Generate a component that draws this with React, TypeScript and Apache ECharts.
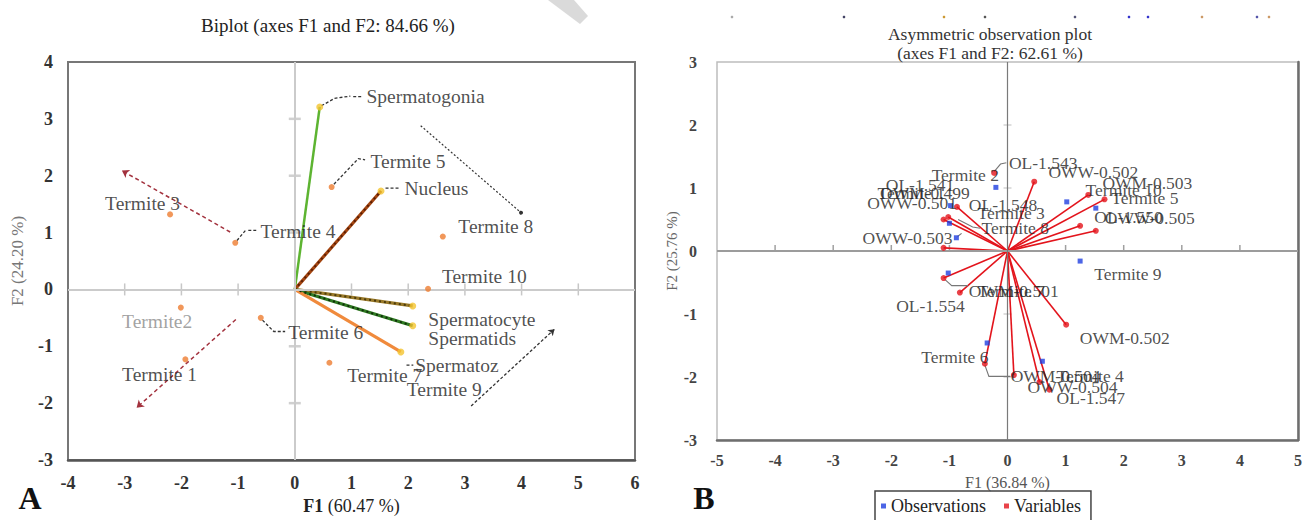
import React, { useEffect, useRef } from "react";
import * as echarts from "echarts";

const FONT = "'Liberation Serif', 'DejaVu Serif', serif";

// ---------- Panel A: Biplot ----------
const aObsNames = ["Termite 1", "Termite2", "Termite 3", "Termite 4", "Termite 5", "Termite 6", "Termite 7", "Termite 8", "Termite 10"];
const aObsX = [-1.93, -2.01, -2.2, -1.05, 0.65, -0.6, 0.61, 2.61, 2.35];
const aObsY = [-1.23, -0.32, 1.32, 0.82, 1.8, -0.5, -1.29, 0.93, 0.01];

const aVarNames = ["Spermatogonia", "Nucleus", "Spermatocyte", "Spermatids", "Spermatoz"];
const aVarX = [0.44, 1.52, 2.08, 2.08, 1.87];
const aVarY = [3.21, 1.73, -0.29, -0.64, -1.1];
const aVarColors = ["#5DB431", "#A3440F", "#9A7A2A", "#2F7A22", "#F08A3C"];
const aVarDash = ["", "#5A1F05", "#4A3A0A", "#10300A", ""];

const aLblText = ["Spermatogonia", "Termite 5", "Nucleus", "Termite 3", "Termite 4", "Termite 8", "Termite 10", "Termite2", "Termite 1", "Termite 6", "Termite 7", "Spermatocyte", "Spermatids", "Spermatoz", "Termite 9"];
const aLblX = [1.26, 1.33, 1.93, -3.35, -0.61, 2.88, 2.59, -3.05, -3.05, -0.12, 0.92, 2.35, 2.35, 2.12, 1.97];
const aLblY = [3.39, 2.25, 1.78, 1.51, 1.02, 1.11, 0.23, -0.56, -1.49, -0.76, -1.51, -0.53, -0.87, -1.34, -1.76];

const aLeaders = [
  [[0.47, 3.23], [0.7, 3.36], [0.98, 3.4]],
  [[1.03, 3.39], [1.19, 3.39]],
  [[0.69, 1.85], [1.12, 2.3], [1.24, 2.28]],
  [[1.6, 1.78], [1.86, 1.78]],
  [[-1.02, 0.86], [-0.86, 1.05]],
  [[-0.82, 1.04], [-0.68, 1.04]],
  [[-0.57, -0.54], [-0.37, -0.74], [-0.17, -0.74]],
  [[1.97, -1.33], [2.09, -1.33]],
];
const aRedArrows = [
  [[-1.14, 1.01], [-3.05, 2.09]],
  [[-1.04, -0.53], [-2.79, -2.08]],
];
const aBlackArrow = [[3.11, -2.05], [4.58, -0.7]];
const aBlackDotLine = [[2.22, 2.88], [3.99, 1.35]];
const aTickX = [-3, -2, -1, 1, 2, 3, 4, 5];
const aTickY = [-2, -1, 1, 2, 3];

// ---------- Panel B: Asymmetric observation plot ----------
const bObsX = [-0.2, 1.02, 1.52, -0.98, -1.0, -0.88, 1.25, -1.02, -0.35, 0.6];
const bObsY = [1.01, 0.78, 0.68, 0.72, 0.44, 0.21, -0.16, -0.35, -1.46, -1.75];
const bVarX = [-0.23, 0.46, 1.39, 1.67, 1.25, 1.52, -1.1, -1.02, -0.87, -1.1, -1.1, -0.82, 1.01, -0.39, 0.11, 0.55, 0.72];
const bVarY = [1.24, 1.1, 0.89, 0.82, 0.4, 0.32, 0.5, 0.54, 0.7, 0.05, -0.43, -0.66, -1.17, -1.79, -1.97, -2.08, -2.2];
const bVarVec = [false, true, true, true, true, true, true, true, true, true, true, true, true, true, true, true, true];

const bLblText = ["OL-1.543", "OWW-0.502", "Termite 2", "OL-1.541", "Termite 1", "OWM-0.499", "OWW-0.501", "OL-1.548", "Termite 3", "Termite 8", "OWW-0.503", "Termite 10", "OWM-0.503", "Termite 5", "OL-1.550", "OWW-0.505", "Termite 9", "OWM-0.501", "Termite 7", "OL-1.554", "OWM-0.502", "Termite 6", "OWM-0.504", "Termite 4", "OWW-0.504", "OL-1.547"];
const bLblX = [0.02, 0.7, -1.31, -2.1, -2.24, -2.2, -2.42, -0.67, -0.52, -0.45, -2.5, 1.34, 1.63, 1.78, 1.49, 1.67, 1.49, -0.67, -0.52, -1.92, 1.24, -1.49, 0.05, 0.84, 0.34, 0.84];
const bLblY = [1.4, 1.26, 1.21, 1.05, 0.92, 0.92, 0.76, 0.73, 0.6, 0.36, 0.2, 0.97, 1.08, 0.84, 0.54, 0.52, -0.36, -0.63, -0.63, -0.87, -1.38, -1.68, -1.99, -1.99, -2.16, -2.34];

const bLeaders = [
  [[-0.23, 1.26], [-0.12, 1.38], [-0.02, 1.4]],
  [[-0.85, 0.5], [-0.6, 0.38], [-0.47, 0.36]],
  [[-0.86, 0.23], [-0.79, 0.28]],
  [[-1.08, -0.45], [-0.96, -0.55], [-0.68, -0.55]],
  [[-0.39, -1.81], [-0.32, -1.99], [0.05, -1.99]],
];
const bTickX = [-4, -3, -2, -1, 1, 2, 3, 4];
const bTickY = [-2, -1, 1, 2];

const topDotsX = [732, 844, 944, 985, 1075, 1129, 1148, 1202, 1257, 1269];
const topDotsColor = ["#aaa", "#446", "#c93", "#555", "#557", "#33c", "#33c", "#c96", "#55a", "#c96"];

function buildOption() {
  const lbl = (size: number, color = "#222") => ({
    show: true,
    position: "right",
    distance: 0,
    formatter: "{b}",
    fontFamily: FONT,
    fontSize: size,
    color,
  });

  const series: any[] = [
    // ---- A: zero lines + ticks
    {
      type: "scatter", name: "aTicksX", xAxisIndex: 0, yAxisIndex: 0, z: 1,
      symbol: "rect", symbolSize: [1.5, 12], itemStyle: { color: "#b9b9b9" },
      data: aTickX.map((v) => [v, 0]),
      markLine: {
        silent: true, symbol: ["none", "none"], label: { show: false },
        data: [
          { yAxis: 0, lineStyle: { color: "#cbcbcb", width: 2, type: "solid" } },
          { xAxis: 0, lineStyle: { color: "#cbcbcb", width: 2, type: "solid" } },
        ],
      },
    },
    {
      type: "scatter", name: "aTicksY", xAxisIndex: 0, yAxisIndex: 0, z: 1,
      symbol: "rect", symbolSize: [12, 2.5], itemStyle: { color: "#c4c4c4" },
      data: aTickY.map((v) => [0, v]),
    },
    // ---- A: vectors
    {
      type: "lines", name: "aVec", coordinateSystem: "cartesian2d", xAxisIndex: 0, yAxisIndex: 0, z: 3,
      data: aVarNames.map((n, i) => ({ name: n, coords: [[0, 0], [aVarX[i], aVarY[i]]], lineStyle: { color: aVarColors[i], width: i === 0 ? 2.5 : 3.2, opacity: 1 } })),
    },
    {
      type: "lines", name: "aVecDash", coordinateSystem: "cartesian2d", xAxisIndex: 0, yAxisIndex: 0, z: 4,
      data: aVarNames
        .map((n, i) => ({ i, n }))
        .filter((d) => aVarDash[d.i])
        .map((d) => ({ name: d.n, coords: [[0, 0], [aVarX[d.i], aVarY[d.i]]], lineStyle: { color: aVarDash[d.i], width: 2, type: [2, 3], opacity: 1 } })),
    },
    {
      type: "scatter", name: "aVarEnds", xAxisIndex: 0, yAxisIndex: 0, z: 5,
      symbolSize: 7, itemStyle: { color: "#F4C430" },
      data: aVarNames.map((n, i) => ({ name: n, value: [aVarX[i], aVarY[i]] })),
    },
    // ---- A: arrows & leaders
    {
      type: "lines", name: "aRedArrows", coordinateSystem: "cartesian2d", xAxisIndex: 0, yAxisIndex: 0, z: 3,
      symbol: ["none", "arrow"], symbolSize: 7,
      lineStyle: { color: "#A3323E", width: 1.5, type: [4, 3], opacity: 1 },
      data: aRedArrows.map((c) => ({ coords: c })),
    },
    {
      type: "lines", name: "aBlackArrow", coordinateSystem: "cartesian2d", xAxisIndex: 0, yAxisIndex: 0, z: 3,
      symbol: ["none", "arrow"], symbolSize: 6,
      lineStyle: { color: "#333", width: 1.3, type: [3, 2], opacity: 1 },
      data: [{ coords: aBlackArrow }],
    },
    {
      type: "lines", name: "aBlackDot", coordinateSystem: "cartesian2d", xAxisIndex: 0, yAxisIndex: 0, z: 3,
      symbol: ["none", "circle"], symbolSize: 4,
      lineStyle: { color: "#333", width: 1.2, type: [2, 2], opacity: 1 },
      data: [{ coords: aBlackDotLine }],
    },
    {
      type: "lines", name: "aLeaders", coordinateSystem: "cartesian2d", xAxisIndex: 0, yAxisIndex: 0, z: 3,
      polyline: true,
      lineStyle: { color: "#333", width: 1.3, type: [3, 2], opacity: 1 },
      data: aLeaders.map((c) => ({ coords: c })),
    },
    // ---- A: observations
    {
      type: "scatter", name: "aObs", xAxisIndex: 0, yAxisIndex: 0, z: 6,
      symbolSize: 6, itemStyle: { color: "#ED7D31" },
      data: aObsNames.map((n, i) => ({ name: n, value: [aObsX[i], aObsY[i]] })),
    },
    // ---- A: labels
    {
      type: "scatter", name: "aLabels", xAxisIndex: 0, yAxisIndex: 0, z: 7,
      symbolSize: 0.5, itemStyle: { color: "rgba(0,0,0,0)" },
      label: lbl(19.5),
      data: aLblText.map((t, i) => ({
        name: t, value: [aLblX[i], aLblY[i]],
        label: t === "Termite2" ? { color: "#8a8a8a" } : undefined,
      })),
    },

    // ---- B: zero lines + ticks
    {
      type: "scatter", name: "bTicksX", xAxisIndex: 1, yAxisIndex: 1, z: 1,
      symbol: "rect", symbolSize: [1.5, 6], symbolOffset: [0, -3], itemStyle: { color: "#888" },
      data: bTickX.map((v) => [v, 0]),
      markLine: {
        silent: true, symbol: ["none", "none"], label: { show: false },
        data: [
          { yAxis: 0, lineStyle: { color: "#9c9c9c", width: 2, type: "solid" } },
          { xAxis: 0, lineStyle: { color: "#7a7a7a", width: 1.2, type: "solid" } },
        ],
      },
    },
    {
      type: "scatter", name: "bTicksY", xAxisIndex: 1, yAxisIndex: 1, z: 1,
      symbol: "rect", symbolSize: [8, 1.5], itemStyle: { color: "#c8c8c8" },
      data: bTickY.map((v) => [0, v]),
    },
    {
      type: "lines", name: "bVec", coordinateSystem: "cartesian2d", xAxisIndex: 1, yAxisIndex: 1, z: 3,
      lineStyle: { color: "#E3141C", width: 1.6, opacity: 1 },
      data: bVarX.map((x, i) => ({ i, x })).filter((d) => bVarVec[d.i]).map((d) => ({ coords: [[0, 0], [bVarX[d.i], bVarY[d.i]]] })),
    },
    {
      type: "lines", name: "bLeaders", coordinateSystem: "cartesian2d", xAxisIndex: 1, yAxisIndex: 1, z: 3,
      polyline: true,
      lineStyle: { color: "#777", width: 1.1, opacity: 1 },
      data: bLeaders.map((c) => ({ coords: c })),
    },
    {
      type: "scatter", name: "Observations", xAxisIndex: 1, yAxisIndex: 1, z: 5,
      symbol: "rect", symbolSize: 5, itemStyle: { color: "#1F3FE0" },
      data: bObsX.map((x, i) => [x, bObsY[i]]),
    },
    {
      type: "scatter", name: "Variables", xAxisIndex: 1, yAxisIndex: 1, z: 5,
      symbol: "circle", symbolSize: 6, itemStyle: { color: "#E3141C" },
      data: bVarX.map((x, i) => [x, bVarY[i]]),
    },
    {
      type: "scatter", name: "bLabels", xAxisIndex: 1, yAxisIndex: 1, z: 7,
      symbolSize: 0.5, itemStyle: { color: "rgba(0,0,0,0)" },
      label: lbl(17.5),
      data: bLblText.map((t, i) => ({ name: t, value: [bLblX[i], bLblY[i]] })),
    },
  ];

  const axisLabA = { fontFamily: FONT, fontSize: 18, fontWeight: "bold", color: "#333" };
  const axisLabB = { fontFamily: FONT, fontSize: 16, fontWeight: "bold", color: "#444" };

  return {
    animation: false,
    backgroundColor: "#fff",
    grid: [
      { left: 68, top: 62, width: 567, height: 400, show: true, borderColor: "#777", borderWidth: 2, containLabel: false },
      { left: 717, top: 62, width: 581, height: 378, show: true, borderColor: "#bdbdbd", borderWidth: 1.5, containLabel: false },
    ],
    xAxis: [
      {
        gridIndex: 0, type: "value", min: -4, max: 6, interval: 1,
        axisLine: { show: true, onZero: false, lineStyle: { color: "#555", width: 2.5 } },
        axisTick: { show: false }, splitLine: { show: false },
        axisLabel: { ...axisLabA, margin: 14 },
        name: "{b|F1} (60.47 %)", nameLocation: "middle", nameGap: 37,
        nameTextStyle: { fontFamily: FONT, fontSize: 18, color: "#222", rich: { b: { fontFamily: FONT, fontSize: 18, fontWeight: "bold", color: "#222" } } },
      },
      {
        gridIndex: 1, type: "value", min: -5, max: 5, interval: 1,
        axisLine: { show: true, onZero: false, lineStyle: { color: "#6e6e6e", width: 2.5 } },
        axisTick: { show: false }, splitLine: { show: false },
        axisLabel: { ...axisLabB, margin: 12 },
        name: "F1 (36.84 %)", nameLocation: "middle", nameGap: 34,
        nameTextStyle: { fontFamily: FONT, fontSize: 16, color: "#555" },
      },
    ],
    yAxis: [
      {
        gridIndex: 0, type: "value", min: -3, max: 4, interval: 1,
        axisLine: { show: false, onZero: false }, axisTick: { show: false }, splitLine: { show: false },
        axisLabel: { ...axisLabA, margin: 15 },
        name: "F2 (24.20 %)", nameLocation: "middle", nameGap: 42,
        nameTextStyle: { fontFamily: FONT, fontSize: 17, color: "#777" },
      },
      {
        gridIndex: 1, type: "value", min: -3, max: 3, interval: 1,
        axisLine: { show: false, onZero: false }, axisTick: { show: false }, splitLine: { show: false },
        axisLabel: { ...axisLabB, margin: 20 },
        name: "F2 (25.76 %)", nameLocation: "middle", nameGap: 37,
        nameTextStyle: { fontFamily: FONT, fontSize: 15, color: "#666" },
      },
      {
        gridIndex: 1, type: "value", min: -3, max: 3, interval: 1, position: "right",
        axisLine: { show: true, onZero: false, lineStyle: { color: "#6e6e6e", width: 2.5 } },
        axisTick: { show: false }, splitLine: { show: false }, axisLabel: { show: false },
      },
    ],
    legend: {
      data: ["Observations", "Variables"],
      left: 875, top: 491,
      orient: "horizontal",
      selectedMode: false,
      icon: "rect", itemWidth: 5, itemHeight: 5, itemGap: 18,
      borderColor: "#444", borderWidth: 1.5, padding: [6, 10, 8, 6],
      textStyle: { fontFamily: FONT, fontSize: 18, color: "#222" },
    },
    graphic: [
      { type: "text", x: 328, y: 25, style: { text: "Biplot (axes F1 and F2: 84.66 %)", fontFamily: FONT, fontSize: 19, fill: "#222", align: "center", verticalAlign: "middle" } },
      { type: "text", x: 990, y: 34, style: { text: "Asymmetric observation plot", fontFamily: FONT, fontSize: 17.5, fill: "#333", align: "center", verticalAlign: "middle" } },
      { type: "text", x: 990, y: 53, style: { text: "(axes F1 and F2: 62.61 %)", fontFamily: FONT, fontSize: 17.5, fill: "#333", align: "center", verticalAlign: "middle" } },
      { type: "text", x: 30, y: 498, style: { text: "A", fontFamily: FONT, fontSize: 32, fontWeight: "bold", fill: "#111", align: "center", verticalAlign: "middle" } },
      { type: "text", x: 704, y: 498, style: { text: "B", fontFamily: FONT, fontSize: 32, fontWeight: "bold", fill: "#111", align: "center", verticalAlign: "middle" } },
      { type: "polygon", shape: { points: [[548, 0], [574, 0], [588, 16], [580, 24]] }, style: { fill: "#dadada" } },
      ...topDotsX.map((x, i) => ({ type: "circle", shape: { cx: x, cy: 17, r: 1.3 }, style: { fill: topDotsColor[i] } })),
    ],
    series,
  };
}

export default function App() {
  const ref = useRef<HTMLDivElement>(null);
  useEffect(() => {
    if (!ref.current) return;
    const chart = echarts.init(ref.current, null, { renderer: "svg" });
    chart.setOption(buildOption() as any);
    return () => chart.dispose();
  }, []);
  return (
    <div
      ref={ref}
      style={{ position: "absolute", left: 0, top: 0, width: 1314, height: 520, background: "#fff" }}
    />
  );
}
